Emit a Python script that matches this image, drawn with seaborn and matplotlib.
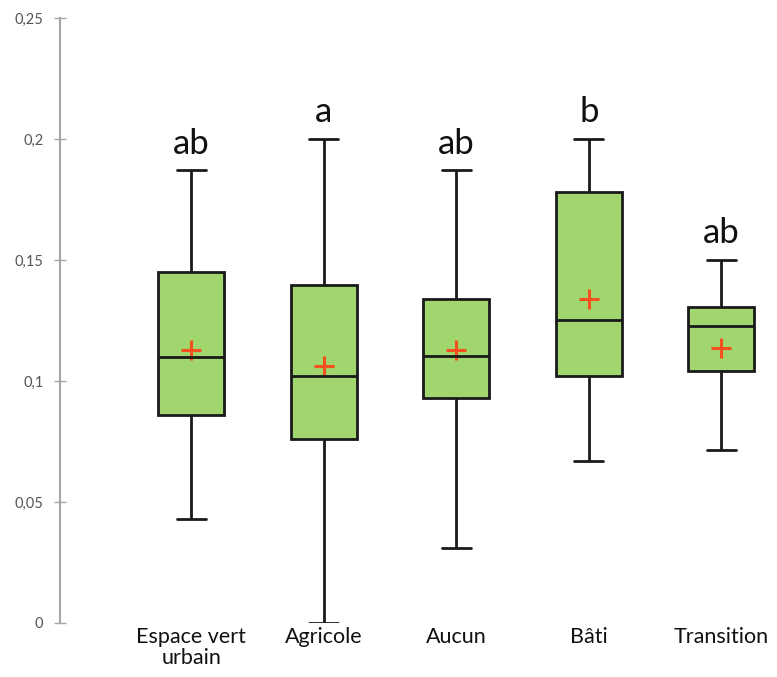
import numpy as np
import pandas as pd
import matplotlib
matplotlib.use("Agg")
import matplotlib.pyplot as plt
import seaborn as sns

# Values
categories = ["Espace vert\nurbain", "Agricole", "Aucun", "Bâti", "Transition"]
whisker_low = [0.043, 0.000, 0.031, 0.067, 0.0715]
q1 = [0.086, 0.076, 0.093, 0.102, 0.104]
median = [0.110, 0.102, 0.1105, 0.125, 0.1227]
q3 = [0.145, 0.1397, 0.134, 0.178, 0.1305]
whisker_high = [0.187, 0.200, 0.187, 0.200, 0.150]
means = [0.113, 0.106, 0.113, 0.134, 0.1135]
letters = ["ab", "a", "ab", "b", "ab"]
ytick_vals = [0, 0.05, 0.1, 0.15, 0.2, 0.25]
ytick_labels = ["0", "0,05", "0,1", "0,15", "0,2", "0,25"]

# five-number summary per group -> long table (whiskers at min/max)
rows = []
for i, cat in enumerate(categories):
    for v in (whisker_low[i], q1[i], median[i], q3[i], whisker_high[i]):
        rows.append({"groupe": cat, "valeur": v})
df = pd.DataFrame(rows)
df_mean = pd.DataFrame({"groupe": categories, "moyenne": means})

sns.set_style("white")
plt.rcParams["font.family"] = ["Lato", "DejaVu Sans"]

fig = plt.figure(figsize=(7.77, 6.77), dpi=100)
ax = fig.add_axes([0.0772, 0.0798, 0.9228, 0.8936])

sns.boxplot(data=df, x="groupe", y="valeur", order=categories, whis=(0, 100),
            width=0.5, color="#a1d56d", linecolor="#1a1a1a", linewidth=2.0,
            saturation=1, showfliers=False, ax=ax)

# narrower whisker caps, as in the original
for line in ax.lines:
    xd = np.asarray(line.get_xdata(), dtype=float)
    yd = np.asarray(line.get_ydata(), dtype=float)
    if len(xd) == 2 and np.isclose(yd[0], yd[1]) and 0.05 < abs(xd[1] - xd[0]) < 0.45:
        c = xd.mean()
        line.set_xdata([c - 0.11, c + 0.11])

sns.pointplot(data=df_mean, x="groupe", y="moyenne", order=categories,
              linestyle="none", marker="+", markersize=14, markeredgewidth=2.2,
              color="#f4511e", errorbar=None, ax=ax)

# significance letters above the upper whiskers
for i, lab in enumerate(letters):
    ax.text(i, whisker_high[i] + 0.0045, lab, ha="center", va="bottom",
            fontsize=25, color="#111111")

ax.set_xlim(-0.99, 4.42)
ax.set_ylim(0, 0.25)
ax.set_yticks(ytick_vals)
ax.set_yticklabels(ytick_labels, fontsize=10.5, color="#555555")
ax.set_xlabel("")
ax.set_ylabel("")
for lab in ax.get_xticklabels():
    lab.set_linespacing(1.05)

for side in ["top", "right", "bottom"]:
    ax.spines[side].set_visible(False)
ax.spines["left"].set_color("#a6a6a6")
ax.spines["left"].set_linewidth(1.5)

ax.tick_params(axis="y", left=True, direction="inout", length=8, width=1,
               color="#a6a6a6", pad=8)
ax.tick_params(axis="x", length=0, labelsize=15.5, labelcolor="#111111", pad=3)

fig.savefig("out.png", dpi=100)
